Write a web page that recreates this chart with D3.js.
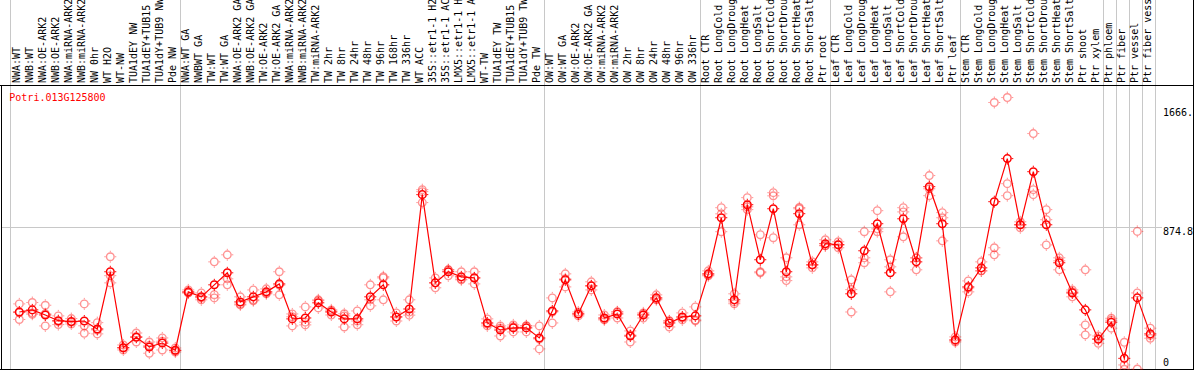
<!DOCTYPE html>
<html>
<head>
<meta charset="utf-8">
<script src="https://cdn.jsdelivr.net/npm/d3@7"></script>
<style>
body { margin: 0; background: #fff; }
text { font-family: "DejaVu Sans Mono", monospace; font-size: 10px; }
</style>
</head>
<body>
<script>
// sample names, left to right
var categories = [
  "NWA:WT", "NWB:WT", "NWA:OE-ARK2", "NWB:OE-ARK2", "NWA:miRNA-ARK2", "NWB:miRNA-ARK2",
  "NW 0hr", "WT H2O", "WT-NW", "TUA1dEY NW", "TUA1dEY+TUB15 NW", "TUA1dY+TUB9 NW", "Pde NW",
  "NWA:WT GA", "NWBWT GA", "TW:WT", "TW:WT GA", "NWA:OE-ARK2 GA", "NWB:OE-ARK2 GA",
  "TW:OE-ARK2", "TW:OE-ARK2 GA", "NWA:miRNA-ARK2 ", "NWB:miRNA-ARK2 ", "TW:miRNA-ARK2",
  "TW 2hr", "TW 8hr", "TW 24hr", "TW 48hr", "TW 96hr", "TW 168hr", "TW 336hr", "WT ACC",
  "35S::etr1-1 H2O", "35S::etr1-1 ACC", "LMX5::etr1-1 H2O", "LMX5::etr1-1 ACC", "WT-TW",
  "TUA1dEY TW", "TUA1dEY+TUB15 TW", "TUA1dY+TUB9 TW", "Pde TW",
  "OW:WT", "OW:WT GA", "OW:OE-ARK2", "OW:OE-ARK2 GA", "OW:miRNA-ARK2", "OW:miRNA-ARK2 ",
  "OW 2hr", "OW 8hr", "OW 24hr", "OW 48hr", "OW 96hr", "OW 336hr",
  "Root CTR", "Root LongCold", "Root LongDrought", "Root LongHeat", "Root LongSalt",
  "Root ShortCold", "Root ShortDrought", "Root ShortHeat", "Root ShortSalt", "Ptr root",
  "Leaf CTR", "Leaf LongCold", "Leaf LongDrought", "Leaf LongHeat", "Leaf LongSalt",
  "Leaf ShortCold", "Leaf ShortDrought", "Leaf ShortHeat", "Leaf ShortSalt", "Ptr leaf",
  "Stem CTR", "Stem LongCold", "Stem LongDrought", "Stem LongHeat", "Stem LongSalt",
  "Stem ShortCold", "Stem ShortDrought", "Stem ShortHeat", "Stem ShortSalt",
  "Ptr shoot", "Ptr xylem", "Ptr phloem", "Ptr fiber", "Ptr vessel", "Ptr fiber vessel"
];

// mean expression per sample
var meanValues = [
  310, 324, 290, 252, 246, 250, 197, 578, 72, 142, 77, 103, 55,
  444, 411, 491, 571, 377, 411, 444, 497, 264, 270, 371, 310, 264, 264, 411, 491, 277, 330, 1092,
  504, 578, 544, 537, 237, 190, 204, 204, 137,
  317, 524, 297, 484, 270, 297, 150, 290, 404, 237, 277, 284,
  564, 938, 391, 1025, 658, 998, 578, 965, 624, 765,
  758, 431, 718, 898, 571, 931, 644, 1145, 898, 124,
  477, 604, 1045, 1332, 891, 1245, 891, 638, 437, 324, 128, 242, 1, 404, 164
];

// the three replicates
var rep1 = [
  364, 373, 355, 284, 266, 364, 239, 678, 90, 170, 110, 137, 70,
  457, 437, 644, 691, 411, 457, 464, 578, 297, 344, 391, 324, 284, 317, 491, 537, 304, 391, 1125,
  537, 591, 578, 578, 264, 217, 224, 217, 217,
  404, 564, 310, 511, 290, 310, 184, 304, 424, 250, 304, 344,
  584, 1005, 431, 1072, 825, 1105, 671, 998, 644, 791,
  778, 524, 845, 985, 658, 1005, 671, 1219, 972, 144,
  517, 644, 1706, 1739, 911, 1499, 992, 671, 457, 591, 150, 268, 108, 847, 202
];
var rep2 = [
  260, 304, 217, 226, 230, 168, 164, 504, 57, 110, 35, 57, 43,
  437, 391, 404, 491, 357, 391, 437, 424, 217, 224, 337, 290, 210, 250, 391, 391, 250, 310, 1112,
  471, 551, 524, 497, 217, 150, 177, 177, 130,
  237, 477, 284, 457, 257, 270, 110, 270, 391, 210, 257, 257,
  551, 845, 377, 992, 578, 805, 544, 891, 604, 751,
  738, 310, 671, 845, 444, 811, 591, 1085, 938, 110,
  444, 584, 738, 1165, 871, 1125, 925, 591, 411, 224, 101, 202, -43, -70, 135
];
var rep3 = [
  306, 295, 298, 246, 242, 218, 190, 552, 70, 146, 86, 115, 52,
  438, 405, 425, 531, 363, 385, 431, 489, 278, 242, 385, 316, 298, 225, 351, 545, 277, 289, 1039,
  504, 591, 530, 537, 230, 203, 211, 218, 64,
  310, 531, 297, 484, 263, 311, 156, 296, 397, 251, 270, 251,
  557, 964, 365, 1011, 571, 1084, 519, 1006, 624, 753,
  758, 459, 638, 864, 611, 977, 670, 1131, 784, 118,
  470, 584, 691, 1085, 891, 1092, 757, 651, 444, 157, 133, 255, -72, 437, 155
];

// y axis labels
var tickValues = [0, 874.8, 1666];
var tickLabels = ["0", "874.8", "1666."];
var gridValues = [874.8];

// grey separators sit right of these samples
var separatorAfter = ["Pde NW", "Pde TW", "OW 336hr", "Ptr root", "Ptr leaf",
                      "Ptr xylem", "Ptr phloem", "Ptr fiber", "Ptr vessel", "Ptr fiber vessel"];

var geneName = "Potri.013G125800";

var width = 1194, height = 370;
var plotTop = 85, plotBottom = 369;

var svg = d3.select("body").append("svg")
            .attr("width", width)
            .attr("height", height);

var x = d3.scaleBand()
          .domain(categories)
          .range([10.9, 10.9 + 13 * categories.length]);

var y = d3.scaleLinear()
          .domain([0, 1666])
          .range([358.5, 108.5]);

function px(c) { return x(c) + 8.4; }

// grey grid line
svg.selectAll("line.grid")
   .data(gridValues)
   .enter().append("line")
   .attr("x1", 1).attr("x2", 1162)
   .attr("y1", function(d) { return Math.round(y(d)) + 0.5; })
   .attr("y2", function(d) { return Math.round(y(d)) + 0.5; })
   .style("stroke", "#c8c8c8");

// grey separators (left edge + group ends)
svg.append("line")
   .attr("x1", 10.5).attr("x2", 10.5)
   .attr("y1", 0).attr("y2", plotBottom)
   .style("stroke", "#c8c8c8");

svg.selectAll("line.sep")
   .data(separatorAfter)
   .enter().append("line")
   .attr("x1", function(d) { return Math.round(x(d) + x.bandwidth()) + 0.5; })
   .attr("x2", function(d) { return Math.round(x(d) + x.bandwidth()) + 0.5; })
   .attr("y1", 0).attr("y2", plotBottom)
   .style("stroke", "#c8c8c8");

// frame
svg.append("line").attr("x1", 0).attr("x2", width).attr("y1", plotTop + 0.5).attr("y2", plotTop + 0.5).style("stroke", "#000");
svg.append("line").attr("x1", 0).attr("x2", width).attr("y1", plotBottom + 0.5).attr("y2", plotBottom + 0.5).style("stroke", "#000");
svg.append("line").attr("x1", 1.5).attr("x2", 1.5).attr("y1", plotTop).attr("y2", height).style("stroke", "#000");
svg.append("line").attr("x1", 1193.5).attr("x2", 1193.5).attr("y1", 0).attr("y2", height).style("stroke", "#000");

// sample labels, rotated
svg.selectAll("text.cat")
   .data(categories)
   .enter().append("text")
   .attr("transform", function(d) { return "translate(" + (px(d) + 1) + ",83) rotate(-90)"; })
   .style("fill", "#000")
   .text(function(d) { return d.trim(); });

// y labels on the right
svg.selectAll("text.tick")
   .data(tickValues)
   .enter().append("text")
   .attr("x", 1163)
   .attr("y", function(d) { return y(d) + 7.5; })
   .style("fill", "#000")
   .text(function(d, i) { return tickLabels[i]; });

// gene name
svg.append("text")
   .attr("x", 9.3).attr("y", 101)
   .style("fill", "#ff0000")
   .text(geneName);

// markers: ring with four small ticks
function drawMarker(g, cx, cy, color, op, sw) {
  var m = g.append("g").attr("transform", "translate(" + cx + "," + cy + ")")
           .style("opacity", op);
  m.append("circle").attr("r", 3.8)
   .style("fill", "none").style("stroke", color).style("stroke-width", sw);
  [[0, -4.5, 0, -6], [0, 4.5, 0, 6], [-4.5, 0, -6, 0], [4.5, 0, 6, 0]].forEach(function(t) {
    m.append("line").attr("x1", t[0]).attr("y1", t[1]).attr("x2", t[2]).attr("y2", t[3])
     .style("stroke", color).style("stroke-width", 1);
  });
}

var repLayer = svg.append("g");
[rep1, rep2, rep3].forEach(function(rep) {
  categories.forEach(function(c, i) {
    drawMarker(repLayer, px(c), y(rep[i]), "#ff0000", 0.42, 1.4);
  });
});

// mean line
var line = d3.line()
             .x(function(d, i) { return px(categories[i]); })
             .y(function(d) { return y(d); });

svg.append("path")
   .datum(meanValues)
   .attr("d", line)
   .style("fill", "none")
   .style("stroke", "#ff0000")
   .style("stroke-width", 1.2);

var meanLayer = svg.append("g");
categories.forEach(function(c, i) {
  drawMarker(meanLayer, px(c), y(meanValues[i]), "#ff0000", 1, 1.5);
});
</script>
</body>
</html>
